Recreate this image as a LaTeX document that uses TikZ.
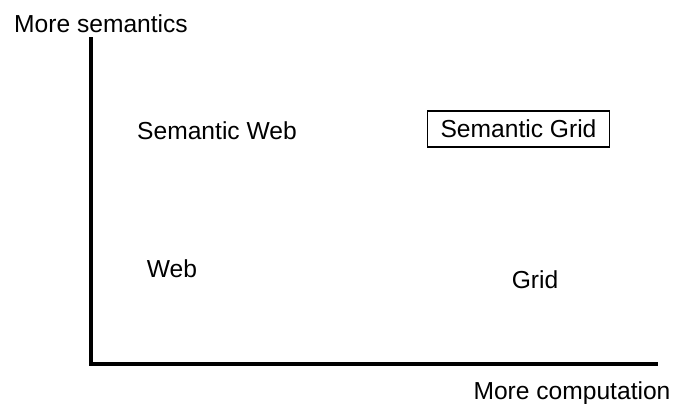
\documentclass[tikz,border=0pt]{standalone}
\usepackage{fontspec}
\setmainfont{Liberation Sans}
\usepackage{tikz}
\usetikzlibrary{calc}

\begin{document}
\begin{tikzpicture}[x=0.5pt,y=0.5pt,
        lbl/.style={anchor=base,inner sep=0pt,font=\fontsize{12.3}{15}\selectfont},
        boxlbl/.style={draw,line width=0.9pt,inner xsep=6.5pt,minimum height=18pt,font=\fontsize{12.3}{15}\selectfont}]
        \newcommand{\figgridaxisx}{90.5}
        \newcommand{\figgridaxisy}{39.5}
        \newcommand{\figgridaxistop}{366}
        \newcommand{\figgridaxisend}{658}
        \useasboundingbox (0,0) rectangle (675,403);
        \coordinate (top) at (\figgridaxisx,\figgridaxistop);
        \coordinate (origin) at (\figgridaxisx,\figgridaxisy);
        \coordinate (right) at (\figgridaxisend,\figgridaxisy);
        \draw[line width=2pt,line join=miter] (top) -- (origin) -- (right);
        \node[lbl] (moresem) at (101,371) {More semantics};
        \node[lbl] (morecomp) at (572,4) {More computation};
        \node[lbl] (semweb) at (217,264) {Semantic Web};
        \node[boxlbl] (semgrid) at (518.5,274) {Semantic Grid};
        \node[lbl] (web) at (172,126) {Web};
        \node[lbl] (grid) at (535,115) {Grid};
    \end{tikzpicture}
\end{document}
